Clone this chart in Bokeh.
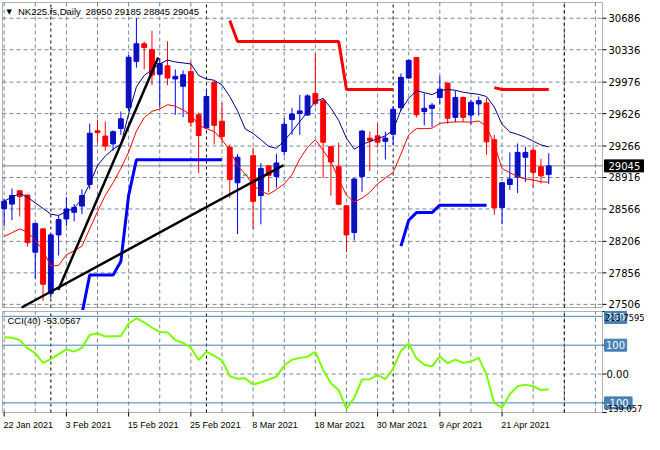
from bokeh.plotting import figure
from bokeh.layouts import column
from bokeh.models import Range1d, BoxAnnotation
from bokeh.core.properties import value
from bokeh.embed import file_html
from bokeh.resources import INLINE

nan = float("nan")

# ---------------- data ----------------
date_labels = ["22 Jan 2021", "3 Feb 2021", "15 Feb 2021", "25 Feb 2021", "8 Mar 2021",
               "18 Mar 2021", "30 Mar 2021", "9 Apr 2021", "21 Apr 2021"]
date_positions = [0, 8, 16, 24, 32, 40, 48, 56, 64]
month_starts = [6, 26, 50, 72]
grid_bars = [0, 4, 8, 12, 16, 20, 24, 28, 32, 36, 40, 44, 48, 52, 56, 60, 64, 68, 72, 76]
price_ticks = [30686, 30336, 29976, 29626, 29266, 28916, 28566, 28206, 27856, 27506]
price_min, price_max = 27471, 30861
last_price = 29045
title_name = "NK225.fs,Daily"
title_ohlc = "28950 29185 28845 29045"

opens = [28570, 28620, 28768, 28721, 28086, 28345, 27628, 28278, 28455, 28529, 28598, 28838,
         29435, 29376, 29290, 29461, 29691, 30207, 30402, 30338, 30064, 30157, 30011, 29930,
         30093, 29613, 29467, 29976, 29542, 29254, 28857, 28945, 29158, 28715, 29045, 28928,
         29205, 29560, 29627, 29610, 29851, 29770, 29258, 29035, 28601, 28305, 28928, 29354,
         29379, 29318, 29397, 29691, 30022, 30250, 29649, 29685, 29805, 29965, 29585, 29805,
         29610, 29734, 29745, 29336, 28583, 28838, 28921, 29141, 29219, 29035, 28950]
highs = [28680, 28793, 28775, 28725, 28410, 28350, 28290, 28494, 28697, 28620, 28785, 29514,
         29560, 29539, 29440, 29649, 30278, 30687, 30427, 30544, 30242, 30431, 30118, 30107,
         30207, 29638, 29887, 29987, 29745, 29283, 29176, 28952, 29248, 29077, 29052, 29176,
         29578, 29691, 29834, 29840, 30296, 29798, 29265, 29301, 28605, 28910, 29443, 29425,
         29514, 29425, 29709, 30072, 30224, 30255, 29851, 29745, 30047, 29970, 29877, 29816,
         29781, 29816, 29798, 29390, 28865, 29195, 29294, 29258, 29258, 29123, 29185]
lows = [28377, 28441, 28483, 28146, 27791, 27545, 27577, 28050, 28377, 28430, 28508, 28785,
        29301, 29212, 29212, 29390, 29656, 30136, 30118, 29941, 29691, 29941, 29613, 29585,
        29478, 28963, 29461, 29283, 29301, 28689, 28288, 28938, 28342, 28395, 28750, 28803,
        29158, 29390, 29390, 29603, 29709, 28910, 28715, 28608, 28086, 28217, 28757, 28988,
        29248, 29116, 29283, 29656, 30011, 29585, 29496, 29478, 29728, 29514, 29531, 29531,
        29504, 29603, 29169, 28502, 28395, 28779, 28743, 28867, 28803, 28849, 28845]
closes = [28651, 28715, 28704, 28192, 28406, 27730, 28278, 28448, 28566, 28583, 28715, 29408,
          29414, 29265, 29425, 29568, 30253, 30402, 30360, 30054, 30182, 30022, 30040, 30058,
          29531, 29382, 29816, 29496, 29372, 28892, 29141, 28945, 28651, 29017, 28939, 29077,
          29507, 29621, 29656, 29823, 29738, 29308, 29088, 28619, 28278, 28899, 29432, 29326,
          29308, 29354, 29674, 30029, 30218, 29613, 29685, 29720, 29898, 29574, 29805, 29585,
          29752, 29770, 29312, 28579, 28857, 28899, 29195, 29195, 28974, 28934, 29045]

ma_upper = [28654, 28697, 28739, 28697, 28633, 28572, 28508, 28494, 28537, 28579, 28675, 28846,
            29048, 29155, 29230, 29283, 29624, 29923, 30050, 30114, 30178, 30221, 30200, 30189,
            30178, 30050, 30011, 29997, 29944, 29816, 29656, 29454, 29406, 29336, 29262, 29240,
            29326, 29425, 29539, 29645, 29763, 29795, 29688, 29550, 29352, 29230, 29283, 29315,
            29347, 29379, 29443, 29667, 29795, 29880, 29859, 29837, 29880, 29896, 29885, 29864,
            29851, 29840, 29816, 29699, 29507, 29422, 29395, 29363, 29320, 29278, 29256]
ma_lower = [28260, 28302, 28345, 28308, 28222, 28100, 27932, 27940, 28057, 28100, 28153, 28345,
            28537, 28718, 28857, 29016, 29198, 29432, 29581, 29651, 29677, 29725, 29709, 29667,
            29613, 29496, 29459, 29427, 29336, 29219, 29048, 28952, 28835, 28761, 28729, 28782,
            28846, 28947, 29123, 29251, 29336, 29219, 29091, 28899, 28718, 28643, 28686, 28750,
            28846, 28910, 28974, 29176, 29390, 29459, 29459, 29464, 29518, 29528, 29534, 29534,
            29531, 29544, 29486, 29283, 29016, 28969, 28926, 28899, 28889, 28867, 28864]

stop_resistance = [nan, nan, nan, nan, nan, nan, nan, nan, nan, nan, nan, nan, nan, nan, nan,
                   nan, nan, nan, nan, nan, nan, nan, nan, nan, nan, nan, nan, nan, nan,
                   30661, 30427, 30427, 30427, 30427, 30427, 30427, 30427, 30427, 30427, 30427,
                   30427, 30427, 30427, 30427, 29894, 29894, 29894, 29894, 29894, 29894, 29894,
                   nan, nan, nan, nan, nan, nan, nan, nan, nan, nan, nan, nan,
                   29915, 29894, 29894, 29894, 29894, 29894, 29894, 29894]
stop_support = [nan, nan, nan, nan, nan, nan, nan, nan, nan, nan,
                27400, 27833, 27833, 27833, 27833, 27982, 28718, 29112, 29112, 29112, 29112,
                29112, 29112, 29112, 29112, 29112, 29112, 29112, 29112,
                nan, nan, nan, nan, nan, nan, nan, nan, nan, nan, nan, nan, nan, nan, nan, nan,
                nan, nan, nan, nan, nan, nan,
                28153, 28441, 28526, 28526, 28526, 28608, 28608, 28608, 28608, 28608, 28608, 28608,
                nan, nan, nan, nan, nan, nan, nan, nan]

trend_a_x = [6.95, 19.8]
trend_a_y = [27666, 30250]
trend_b_x = [2.25, 35.9]
trend_b_y = [27471, 29052]

cci = [127.7, 126, 117.7, 89.3, 72.7, 38.7, 52, 68.7, 85.3, 77.7, 91, 135.3, 141, 130, 131, 132,
       174.3, 193.3, 179.3, 161, 146, 144.3, 117.7, 107.7, 91, 48.7, 77.7, 62.7, 47.7, -6.7,
       -16.7, -14.7, -36.7, -29, -19, -9, 30, 49.3, 56, 60, 76.7, 14.3, -32.3, -55.7, -120,
       -82.3, -19, -18, -3.3, -18, 18.7, 80, 106, 54.3, 32, 26.7, 61, 37.7, 50, 38.7, 43.3, 56,
       -2.3, -100.7, -116.7, -70, -42.3, -36.7, -42.3, -55.7, -53.06]
cci_levels = [200, 100, -100]
cci_level_labels = ["200", "100", "-100"]
cci_label_max, cci_label_min = "213.7595", "-139.057"
cci_view_min, cci_view_max = -133.3, 216.7
cci_title = "CCI(40) -53.0567"

# ---------------- layout constants ----------------
W = 644
LB, FW, RB = 2, 600, 42
H1, TOP1, BOT1 = 305, 2, 3
H2, TOP2, BOT2 = 101, 1, 22
XL, XR = -0.2125, 76.91
ppu = FW / (XR - XL)            # pixels per bar
fx0, fx1 = XL - LB / ppu, XR + RB / ppu

GRID_C = "#778899"
BULL_FILL = "#0C16A6"
BULL_LINE = "#0000FF"
BEAR = "#FF0000"
FONT_AX = "DejaVu Sans"
FONT_TX = "Liberation Sans"
LEVEL_C = "#4682B4"

xr = Range1d(fx0, fx1)
xs = list(range(len(opens)))


def make_fig(h_plot, top, bot, ymin, ymax):
    upp = (ymax - ymin) / h_plot
    f = figure(width=W, height=top + h_plot + bot, x_range=xr,
               y_range=Range1d(ymin - bot * upp, ymax + top * upp),
               output_backend="svg", toolbar_location=None, title=None,
               x_axis_location=None, y_axis_location=None, min_border=0)
    f.outline_line_color = None
    f.background_fill_color = "white"
    f.border_fill_color = "white"
    f.xgrid.visible = False
    f.ygrid.visible = False
    n = len(grid_bars)
    f.segment(x0=grid_bars, y0=[ymin] * n, x1=grid_bars, y1=[ymax] * n,
              line_color=GRID_C, line_dash="4 3", line_width=1)
    k = len(month_starts)
    f.segment(x0=month_starts, y0=[ymin] * k, x1=month_starts, y1=[ymax] * k,
              line_color="black", line_dash="3 3", line_width=1)
    return f, upp


def add_border(f, ymin, ymax):
    f.add_layout(BoxAnnotation(left=XL, right=XR, bottom=ymin, top=ymax,
                               fill_alpha=0, line_color="black", line_width=1,
                               level="overlay"))


# ---------------- main price panel ----------------
p, upp1 = make_fig(H1, TOP1, BOT1, price_min, price_max)
m = len(price_ticks)
p.segment(x0=[XL] * m, y0=price_ticks, x1=[XR] * m, y1=price_ticks,
          line_color=GRID_C, line_dash="4 3", line_width=1)
p.segment(x0=[XL], y0=[last_price], x1=[XR], y1=[last_price], line_color="#808080",
          line_width=1)

wick_col, body_x, body_top, body_bot, body_fill, body_line = [], [], [], [], [], []
doji_x, doji_y = [], []
for i in xs:
    o, c = opens[i], closes[i]
    if c > o:
        wick_col.append(BULL_LINE)
        body_x.append(i); body_top.append(c); body_bot.append(o)
        body_fill.append(BULL_FILL); body_line.append(BULL_LINE)
    elif c < o:
        wick_col.append(BEAR)
        body_x.append(i); body_top.append(o); body_bot.append(c)
        body_fill.append(BEAR); body_line.append(BEAR)
    else:
        wick_col.append("#32CD32")
        doji_x.append(i); doji_y.append(o)

p.segment(x0=xs, y0=lows, x1=xs, y1=highs, line_color=wick_col, line_width=1)
p.vbar(x=body_x, width=0.62, top=body_top, bottom=body_bot, fill_color=body_fill,
       line_color=body_line, line_width=1)
p.segment(x0=[d - 0.3 for d in doji_x], y0=doji_y, x1=[d + 0.3 for d in doji_x], y1=doji_y,
          line_color="#32CD32", line_width=1.5)

p.line(xs, ma_upper, line_color="#000080", line_width=1)
p.line(xs, ma_lower, line_color="#FF0000", line_width=1)
p.line(xs, stop_resistance, line_color="#FF0000", line_width=3)
p.line(xs, stop_support, line_color="#0000FF", line_width=3)
p.line(trend_a_x, trend_a_y, line_color="black", line_width=2.5)
p.line(trend_b_x, trend_b_y, line_color="black", line_width=2.5)

# right price scale
p.segment(x0=[XR] * m, y0=price_ticks, x1=[XR + 4 / ppu] * m, y1=price_ticks,
          line_color="black", line_width=1)
p.text(x=[XR + 6 / ppu] * m, y=price_ticks, text=[str(t) for t in price_ticks],
       text_font=value(FONT_AX), text_font_size="10px", text_color="black",
       text_align="left", text_baseline="middle")
p.quad(left=[XR + 2 / ppu], right=[fx1], bottom=[last_price - 6 * upp1],
       top=[last_price + 6 * upp1], fill_color="black", line_color="black")
p.text(x=[XR + 6 / ppu], y=[last_price], text=[str(last_price)],
       text_font=value(FONT_AX), text_font_size="10px", text_color="white",
       text_align="left", text_baseline="middle")

# title
ty = price_max - 9 * upp1
p.text(x=[fx0 + 6 / ppu], y=[ty], text=["▼"], text_font=value(FONT_AX),
       text_font_size="7px", text_color="black", text_align="left", text_baseline="middle")
p.text(x=[fx0 + 17.5 / ppu], y=[ty], text=[title_name], text_font=value(FONT_TX),
       text_font_size="9.5px", text_color="black", text_align="left", text_baseline="middle")
p.text(x=[fx0 + 85 / ppu], y=[ty], text=[title_ohlc], text_font=value(FONT_TX),
       text_font_size="9.5px", text_color="black", text_align="left", text_baseline="middle")
add_border(p, price_min, price_max)

# ---------------- CCI panel ----------------
q, upp2 = make_fig(H2, TOP2, BOT2, cci_view_min, cci_view_max)
q.segment(x0=[XL], y0=[0], x1=[XR], y1=[0], line_color=GRID_C, line_dash="4 3", line_width=1)
nl = len(cci_levels)
q.segment(x0=[XL] * nl, y0=cci_levels, x1=[XR] * nl, y1=cci_levels,
          line_color=LEVEL_C, line_width=1)
q.line(xs, cci, line_color="#7CFC00", line_width=2)

q.text(x=[fx0 + 7 / ppu], y=[cci_view_max - 8.7 * upp2], text=[cci_title],
       text_font=value(FONT_TX), text_font_size="9.5px", text_color="black",
       text_align="left", text_baseline="middle")

# bottom date scale
nd = len(date_positions)
q.segment(x0=date_positions, y0=[cci_view_min] * nd, x1=date_positions,
          y1=[cci_view_min - 4 * upp2] * nd, line_color="black", line_width=1)
q.text(x=[d - 0.1 for d in date_positions], y=[cci_view_min - 12 * upp2] * nd,
       text=date_labels, text_font=value(FONT_TX), text_font_size="9px", text_color="black",
       text_align="left", text_baseline="middle")

# right CCI scale
rticks = [cci_view_max, 100, 0, -100, cci_view_min]
q.segment(x0=[XR] * 5, y0=rticks, x1=[XR + 4 / ppu] * 5, y1=rticks, line_color="black",
          line_width=1)
box_w = [3 * 6.4 + 3, 3 * 6.4 + 3, 4 * 6.4 + 2]
label_y = [196, 100, -100]
q.quad(left=[XR + 2 / ppu] * 3, right=[XR + (2 + w) / ppu for w in box_w],
       bottom=[v - 6 * upp2 for v in label_y], top=[v + 6 * upp2 for v in label_y],
       fill_color=LEVEL_C, line_color=LEVEL_C)
q.text(x=[XR + 3.5 / ppu] * 3, y=label_y, text=cci_level_labels, text_font=value(FONT_AX),
       text_font_size="10px", text_color="white", text_align="left", text_baseline="middle")
q.text(x=[XR + 4 / ppu], y=[0], text=["0.00"], text_font=value(FONT_AX),
       text_font_size="10px", text_color="black", text_align="left", text_baseline="middle")
q.text(x=[XR + 2.5 / ppu] * 2, y=[196, -120], text=[cci_label_max, cci_label_min],
       text_font=value(FONT_AX), text_font_size="8.3px", text_color="black",
       text_align="left", text_baseline="middle")
add_border(q, cci_view_min, cci_view_max)

layout = column(p, q, spacing=0)
open("out.html", "w").write(file_html(layout, INLINE))
